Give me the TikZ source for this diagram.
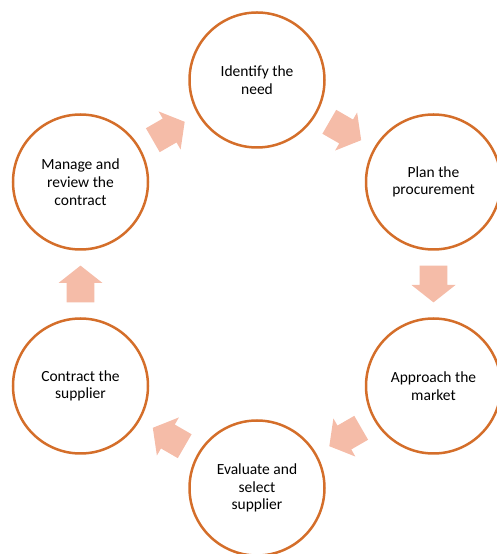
\documentclass[tikz,border=0pt]{standalone}
\usepackage{fontspec}
\setmainfont{Carlito}
\usetikzlibrary{calc}
\definecolor{ringorange}{RGB}{212,110,42}
\definecolor{arrowpink}{RGB}{245,188,168}
\tikzset{
	stage/.style={circle, draw=ringorange, line width=2.5pt, minimum size=135pt, inner sep=0pt,
		align=center, font=\fontsize{15.5}{17.7}\selectfont},
	% fat arrow pointing along +x, centred on the origin
	blockarrow/.pic={
		\fill[arrowpink] (-18.4pt,-13.8pt) -- (1pt,-13.8pt) -- (1pt,-22pt) -- (18.4pt,0pt)
			-- (1pt,22pt) -- (1pt,13.8pt) -- (-18.4pt,13.8pt) -- cycle;
	}
}
\begin{document}
\begin{tikzpicture}[x=1pt, y=1pt]
	\useasboundingbox (0,0) rectangle (496,554);
	% the six stages, clockwise from the top
	\node [stage] (need) at (257,474) {Identify the\\need};
	\node [stage] (plan) at (433.5,372) {Plan the\\procurement};
	\node [stage] (market) at (433.5,168) {Approach the\\market};
	\node [stage] (evaluate) at (257,66) {Evaluate and\\select\\supplier};
	\node [stage] (contract) at (80.5,168) {Contract the\\supplier};
	\node [stage] (manage) at (80.5,372) {Manage and\\review the\\contract};
	% arrows half way between neighbours
	\pic [rotate=-30] at ($(need)!0.5!(plan)$) {blockarrow};
	\pic [rotate=-90] at ($(plan)!0.5!(market)$) {blockarrow};
	\pic [rotate=-150] at ($(market)!0.5!(evaluate)$) {blockarrow};
	\pic [rotate=150] at ($(evaluate)!0.5!(contract)$) {blockarrow};
	\pic [rotate=90] at ($(contract)!0.5!(manage)$) {blockarrow};
	\pic [rotate=30] at ($(manage)!0.5!(need)$) {blockarrow};
\end{tikzpicture}
\end{document}
